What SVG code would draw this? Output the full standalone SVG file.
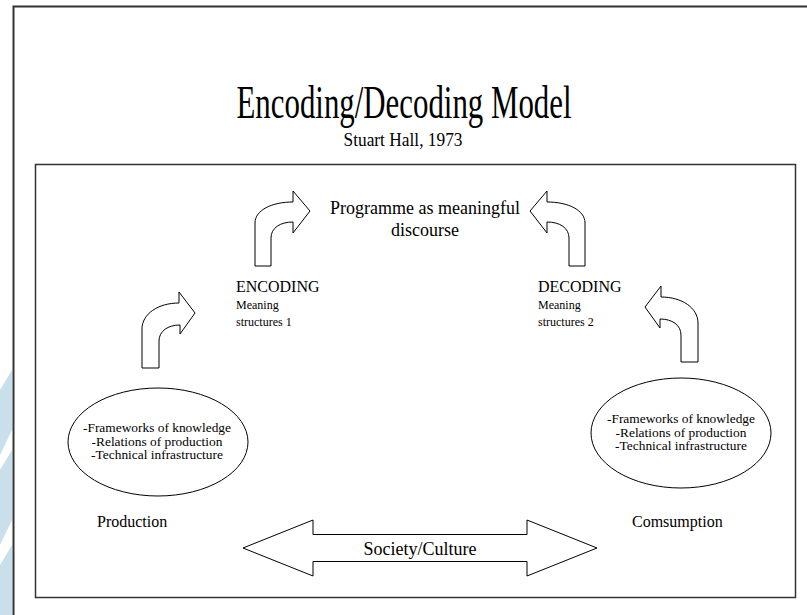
<svg xmlns="http://www.w3.org/2000/svg" width="807" height="615" viewBox="0 0 807 615">
  <style>
    text { font-family: "Liberation Serif", "Times New Roman", serif; fill: #000; }
    .shape { fill: #fff; stroke: #000; stroke-width: 1; }
    .frame { fill: none; stroke: #333; }
    .c { text-anchor: middle; }
  </style>
  <rect width="807" height="615" fill="#fff"/>
  <g id="watermark" fill="#c9dfec">
    <polygon points="0,390 12,370 12,430 0,455"/>
    <polygon points="0,470 12,450 12,520 0,545"/>
    <polygon points="0,565 12,545 12,615 0,615"/>
  </g>
  <g id="frames">
    <path class="frame" d="M13.5,615 V6.5 H807" stroke-width="2"/>
    <rect class="frame" x="35.5" y="164.5" width="760" height="433" stroke-width="1.5"/>
  </g>
  <g id="title">
    <text class="c" x="404" y="118" font-size="46" textLength="335" lengthAdjust="spacingAndGlyphs">Encoding/Decoding Model</text>
    <text class="c" x="403" y="146" font-size="18" textLength="119" lengthAdjust="spacingAndGlyphs">Stuart Hall, 1973</text>
  </g>
  <g id="connectors">
    <path id="arrow-prod-enc" class="shape" d="M142,368 L142,329 C142,314 158,303 179,303 L179,292 L195,313 L180,334 L180,325 C168,325 159,331 159,341 L159,368 Z"/>
    <path id="arrow-enc-prog" class="shape" d="M255,266 L255,223 C255,210 272,202 293,202 L293,191 L310,211 L293,233 L293,222 C280,222 271,228 271,238 L271,266 Z"/>
    <path id="arrow-dec-prog" class="shape" d="M585,266 L585,223 C585,210 568,202 547,202 L547,191 L530,211 L547,233 L547,222 C560,222 569,228 569,238 L569,266 Z"/>
    <path id="arrow-cons-dec" class="shape" d="M698,362 L698,323 C698,308 682,297 661,297 L661,286 L645,307 L660,328 L660,319 C672,319 681,325 681,335 L681,362 Z"/>
  </g>
  <g id="programme">
    <text class="c" x="425" y="214" font-size="18">Programme as meaningful</text>
    <text class="c" x="425" y="236" font-size="18">discourse</text>
  </g>
  <g id="encoding">
    <text x="236" y="292" font-size="16">ENCODING</text>
    <text x="236" y="309" font-size="12">Meaning</text>
    <text x="236" y="326" font-size="12">structures 1</text>
  </g>
  <g id="decoding">
    <text x="538" y="292" font-size="16">DECODING</text>
    <text x="538" y="309" font-size="12">Meaning</text>
    <text x="538" y="326" font-size="12">structures 2</text>
  </g>
  <g id="production-frameworks">
    <ellipse class="shape" cx="158" cy="442" rx="90" ry="54"/>
    <text class="c" x="157" y="432" font-size="13.4">-Frameworks of knowledge</text>
    <text class="c" x="157" y="445.5" font-size="13.4">-Relations of production</text>
    <text class="c" x="157" y="459" font-size="13.4">-Technical infrastructure</text>
  </g>
  <g id="consumption-frameworks">
    <ellipse class="shape" cx="681" cy="433" rx="90" ry="55"/>
    <text class="c" x="681" y="423" font-size="13.4">-Frameworks of knowledge</text>
    <text class="c" x="681" y="436.5" font-size="13.4">-Relations of production</text>
    <text class="c" x="681" y="450" font-size="13.4">-Technical infrastructure</text>
  </g>
  <g id="production">
    <text x="97" y="527" font-size="16">Production</text>
  </g>
  <g id="consumption">
    <text x="632" y="527" font-size="16">Comsumption</text>
  </g>
  <g id="society-culture">
    <path class="shape" d="M243,548 L313,520 L313,534.5 L527,534.5 L527,520 L597,548 L527,576 L527,561.5 L313,561.5 L313,576 Z"/>
    <text class="c" x="420" y="555" font-size="18">Society/Culture</text>
  </g>
</svg>
